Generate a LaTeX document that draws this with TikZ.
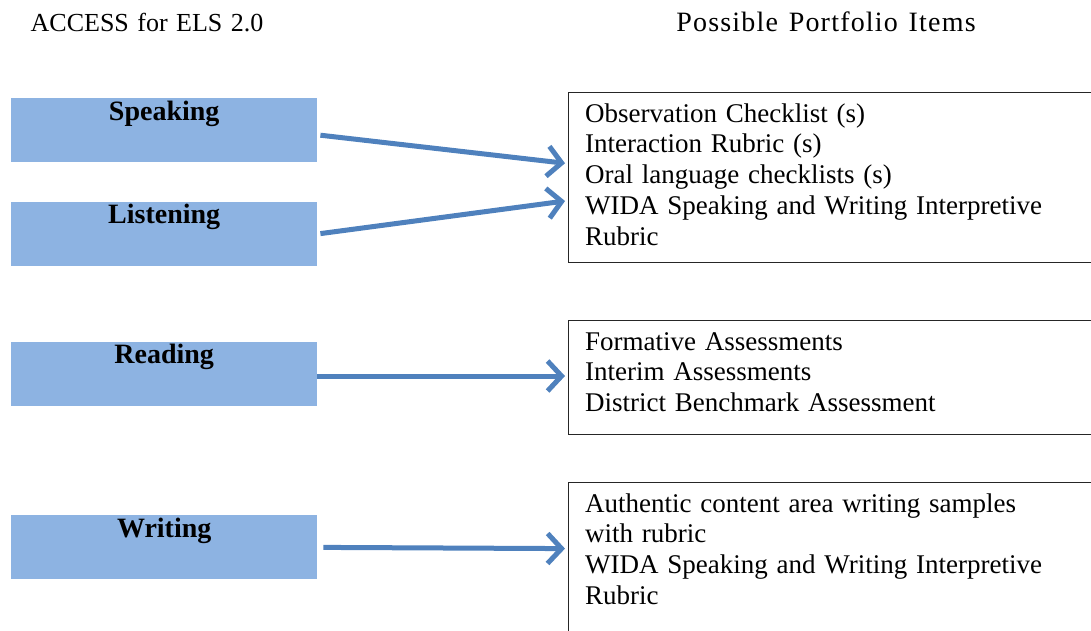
\documentclass[tikz,border=0pt]{standalone}
\usepackage{fontspec}
\setmainfont{Liberation Serif}[WordSpace=1.3]
\usepackage{tikz}
\usetikzlibrary{positioning, calc, arrows.meta}

\definecolor{skillfill}{RGB}{141,179,226}
\definecolor{arrowblue}{RGB}{79,129,189}

\tikzset{
	skill/.style = {rectangle, fill = skillfill, minimum width = 306pt, minimum height = 64pt, inner sep = 0pt},
	skilltext/.style = {anchor = base, yshift = -22pt, font = \fontsize{28}{32}\selectfont\bfseries},
	items/.style = {rectangle, draw = black!85, line width = 1.2pt, minimum width = 540pt, inner sep = 0pt},
	itemtext/.style = {anchor = north west, xshift = 17pt, yshift = -8.5pt, inner sep = 0pt},
	link/.style = {draw = arrowblue, line width = 5pt, shorten > = 3pt, -{Straight Barb[length = 14pt, width = 30pt]}},
}

\begin{document}
\begin{tikzpicture}[x = 1pt, y = -1pt, font = \fontsize{27}{30.75}\selectfont]
	\useasboundingbox (0,0) rectangle (1091,630);
	\clip (0,0) rectangle (1091,630);

	% headings
	\node[anchor = base, font = \fontsize{26}{30}\selectfont] (access) at (147,31) {ACCESS for ELS 2.0};
	\node[anchor = base, font = \fontsize{28}{30}\selectfont\addfontfeature{LetterSpace=4.3}] (portfolio) at (826,31) {Possible Portfolio Items};

	% language domains
	\node[skill, anchor = north west, label = {[skilltext]north:Speaking}] (speak) at (11,98) {};
	\node[skill, below = 39pt of speak, label = {[skilltext]north:Listening}] (listen) {};
	\node[skill, below = 76pt of listen, label = {[skilltext]north:Reading}] (read) {};
	\node[skill, below = 109pt of read, label = {[skilltext]north:Writing}] (write) {};

	% portfolio items
	\node[items, anchor = north west, minimum height = 170pt, label = {[itemtext]north west:{\begin{tabular}{@{}l@{}}
			Observation Checklist (s) \\
			Interaction Rubric (s) \\
			Oral language checklists (s) \\
			WIDA Speaking and Writing Interpretive \\
			Rubric
		\end{tabular}}}] (oralitems) at (568,92) {};
	\node[items, anchor = north west, minimum height = 114pt, label = {[itemtext]north west:{\begin{tabular}{@{}l@{}}
			Formative Assessments \\
			Interim Assessments \\
			District Benchmark Assessment
		\end{tabular}}}] (readitems) at (568,320) {};
	\node[items, anchor = north west, minimum height = 160pt, label = {[itemtext]north west:{\begin{tabular}{@{}l@{}}
			Authentic content area writing samples \\
			with rubric \\
			WIDA Speaking and Writing Interpretive \\
			Rubric
		\end{tabular}}}] (writeitems) at (568,482) {};

	% arrows
	\draw[link] ([xshift = 3pt, yshift = -5pt]speak.east) -- ([yshift = 14pt]oralitems.west);
	\draw[link] ([xshift = 3pt]listen.east) -- ([yshift = -23pt]oralitems.west);
	\draw[link] ([yshift = -2pt]read.east) -- ([yshift = -2pt]read.east -| readitems.west);
	\draw[link] ([xshift = 6pt]write.east) -- ([yshift = 14pt]writeitems.west);
\end{tikzpicture}
\end{document}
